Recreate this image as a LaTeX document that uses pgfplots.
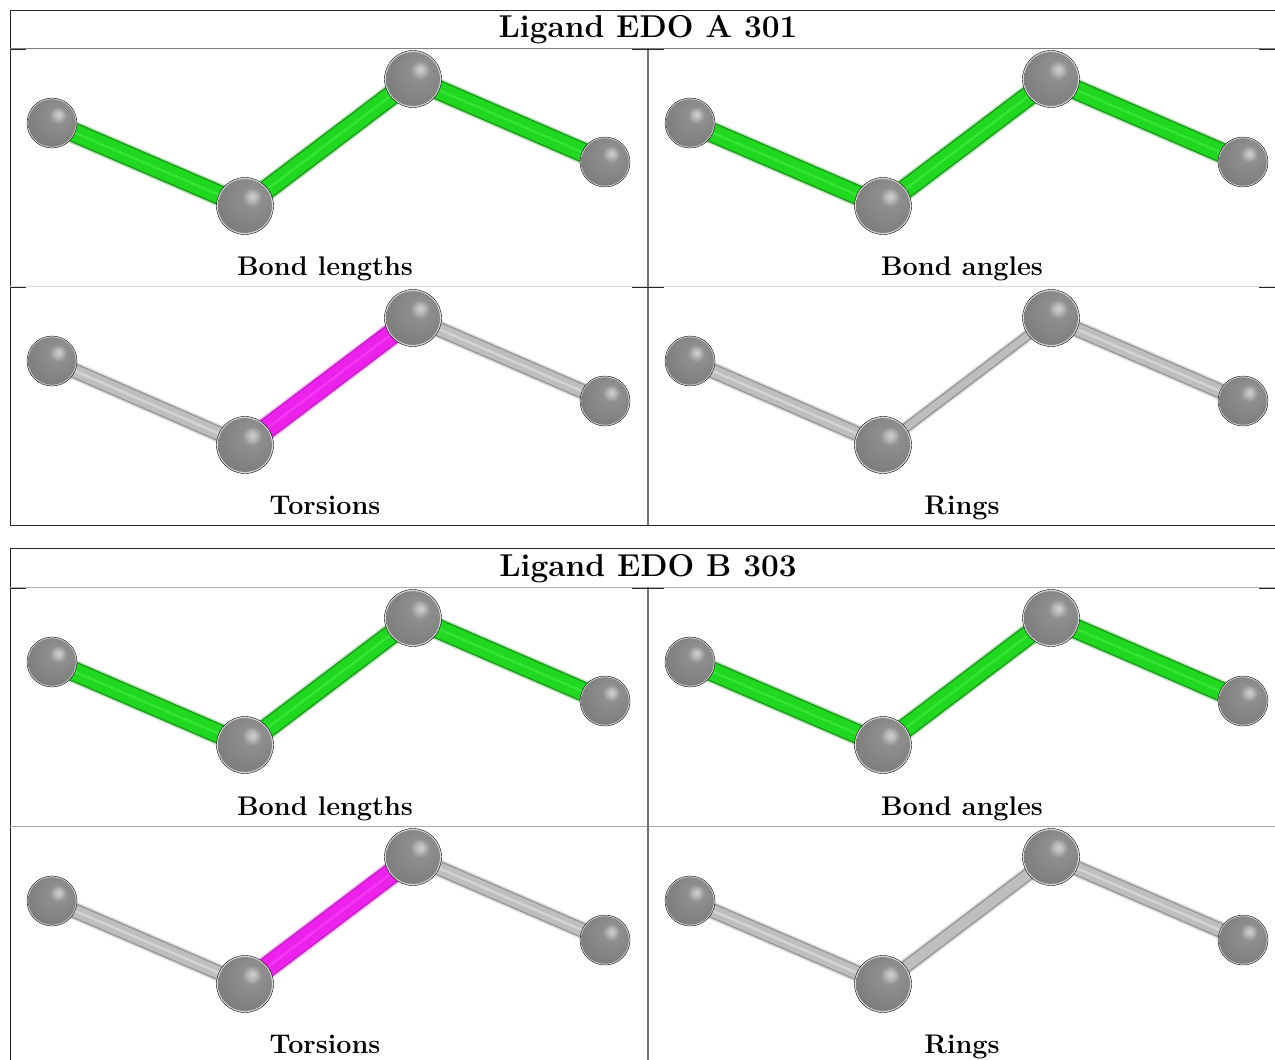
\documentclass[border=0pt]{standalone}
\usepackage{pgfplots}
\pgfplotsset{compat=1.18}
\definecolor{gh}{HTML}{C4E6C4}
\definecolor{gd}{HTML}{1A9C1A}
\definecolor{gm}{HTML}{1FD81F}
\definecolor{gl}{HTML}{45EC45}
\definecolor{mh}{HTML}{F2C4F2}
\definecolor{md}{HTML}{C81EC8}
\definecolor{mm}{HTML}{EC22EC}
\definecolor{ml}{HTML}{F545F5}
\definecolor{yh}{HTML}{E2E2E2}
\definecolor{yd}{HTML}{989898}
\definecolor{ym}{HTML}{BEBEBE}
\definecolor{yl}{HTML}{E2E2E2}
\pgfdeclareradialshading{sph}{\pgfpoint{7bp}{9bp}}{%
  color(0bp)=(white!82!black);color(4bp)=(white!72!black);color(9bp)=(white!56!black);
  color(22bp)=(white!52!black);color(44bp)=(white!46!black);color(56bp)=(white!34!black);color(66bp)=(white!26!black);color(100bp)=(white!26!black)}
\pgfdeclareplotmark{sph}{\pgfpathcircle{\pgfpointorigin}{\pgfplotmarksize}\pgfshadepath{sph}{0}\pgfusepath{discard}}
\newcommand\bond[7]{%
  \addplot[#1,line width=#5pt,line cap=butt] coordinates {#7};
  \addplot[#2,line width=#6pt,line cap=butt] coordinates {#7};
  \addplot[#3,line width=#6pt-3pt,line cap=butt] coordinates {#7};
  \addplot[#4,line width=2.5pt,line cap=butt,opacity=.6] coordinates {#7};}
\newcommand\atoms[4]{%
  \addplot[only marks,mark=*,mark size=25pt,draw=none,fill=black!15] coordinates {#1 #4};
  \addplot[only marks,mark=*,mark size=28.5pt,draw=none,fill=black!15] coordinates {#2 #3};
  \addplot[only marks,mark=sph,mark size=23.8pt] coordinates {#1 #4};
  \addplot[only marks,mark=sph,mark size=27pt] coordinates {#2 #3};}
\newcommand\capt[3]{\node[anchor=center,font=\fontsize{27}{30}\selectfont\bfseries] at (axis cs:#1,#2) {\strut #3};}
\newcommand\ttl[3]{\node[anchor=center,font=\fontsize{31.6}{36}\selectfont\bfseries] at (axis cs:#1,#2) {\strut #3};}
\begin{document}
\begin{tikzpicture}
\path[use as bounding box] (0,0) rectangle (1275pt,1060pt);
\begin{axis}[at={(0,0)},anchor=south west,scale only axis,width=1275pt,height=1060pt,
  xmin=0,xmax=1275,ymin=0,ymax=1060,y dir=reverse,hide axis,clip=true]
% frames
\addplot[black!85,line width=1pt] coordinates {(1275,10)(10.5,10)(10.5,525)(1275,525)};
\addplot[black!85,line width=1pt] coordinates {(1275,548)(10.5,548)(10.5,1060)};
\addplot[black!50,line width=1pt] coordinates {(10,48)(1275,48)};
\addplot[black!15,line width=1pt] coordinates {(10,286.5)(1275,286.5)};
\addplot[black!30,line width=1pt] coordinates {(10,587)(1275,587)};
\addplot[black!35,line width=1pt] coordinates {(10,826)(1275,826)};
\addplot[black!55,line width=1.2pt] coordinates {(648,48)(648,525)};
\addplot[black!55,line width=1.2pt] coordinates {(648,587)(648,1060)};
% tick stubs
\addplot[black!85,line width=.9pt] coordinates {(10,49)(26,49)};
\addplot[black!85,line width=.9pt] coordinates {(632,49)(664,49)};
\addplot[black!85,line width=.9pt] coordinates {(1259,49)(1275,49)};
\addplot[black!85,line width=.9pt] coordinates {(10,287)(26,287)};
\addplot[black!85,line width=.9pt] coordinates {(632,287)(664,287)};
\addplot[black!85,line width=.9pt] coordinates {(1259,287)(1275,287)};
\addplot[black!85,line width=.9pt] coordinates {(10,588)(26,588)};
\addplot[black!85,line width=.9pt] coordinates {(632,588)(664,588)};
\addplot[black!85,line width=.9pt] coordinates {(1259,588)(1275,588)};
% block A
\bond{gh}{gd}{gm}{gl}{23}{20}{(52,123)(245,206)(413,79)(605,162)}
\atoms{(52,123)}{(245,206)}{(413,79)}{(605,162)}
\bond{gh}{gd}{gm}{gl}{23}{20}{(690,123)(883,206)(1051,79)(1243,162)}
\atoms{(690,123)}{(883,206)}{(1051,79)}{(1243,162)}
\bond{yh}{yd}{ym}{yl}{18}{15}{(52,361)(245,445)}
\bond{yh}{yd}{ym}{yl}{18}{15}{(413,318)(605,401)}
\bond{mh}{md}{mm}{ml}{24}{21}{(245,445)(413,318)}
\atoms{(52,361)}{(245,445)}{(413,318)}{(605,401)}
\bond{yh}{yd}{ym}{yl}{18}{15}{(690,361)(883,445)}
\bond{yh}{yd}{ym}{yl}{18}{15}{(1051,318)(1243,401)}
\bond{yh}{yd}{ym}{ym}{13}{10}{(883,445)(1051,318)}
\atoms{(690,361)}{(883,445)}{(1051,318)}{(1243,401)}
% block B
\bond{gh}{gd}{gm}{gl}{23}{20}{(52,662)(245,745)(413,618)(605,701)}
\atoms{(52,662)}{(245,745)}{(413,618)}{(605,701)}
\bond{gh}{gd}{gm}{gl}{23}{20}{(690,662)(883,745)(1051,618)(1243,701)}
\atoms{(690,662)}{(883,745)}{(1051,618)}{(1243,701)}
\bond{yh}{yd}{ym}{yl}{18}{15}{(52,901)(245,984)}
\bond{yh}{yd}{ym}{yl}{18}{15}{(413,857)(605,940)}
\bond{mh}{md}{mm}{ml}{24}{21}{(245,984)(413,857)}
\atoms{(52,901)}{(245,984)}{(413,857)}{(605,940)}
\bond{yh}{yd}{ym}{yl}{18}{15}{(690,901)(883,984)}
\bond{yh}{yd}{ym}{yl}{18}{15}{(1051,857)(1243,940)}
\bond{yh}{yd}{ym}{ym}{16}{13}{(883,984)(1051,857)}
\atoms{(690,901)}{(883,984)}{(1051,857)}{(1243,940)}
% text
\ttl{648}{30}{Ligand EDO A 301}
\capt{325}{269.5}{Bond lengths}
\capt{962}{269.5}{Bond angles}
\capt{325}{508.5}{Torsions}
\capt{962}{508.5}{Rings}
\ttl{648}{569}{Ligand EDO B 303}
\capt{325}{809}{Bond lengths}
\capt{962}{809}{Bond angles}
\capt{325}{1047.5}{Torsions}
\capt{962}{1047.5}{Rings}
\end{axis}
\end{tikzpicture}
\end{document}
